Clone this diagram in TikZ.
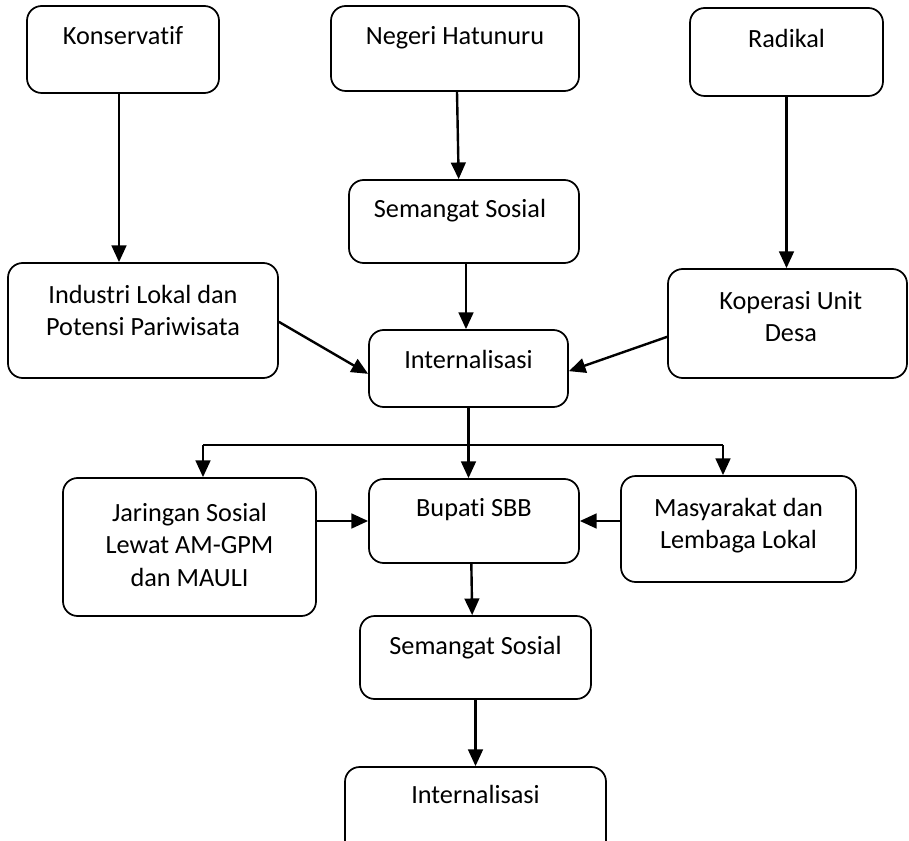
\documentclass[tikz,border=0pt]{standalone}
\usepackage{fontspec}
\setmainfont{Carlito}[Ligatures={NoCommon}]
\usetikzlibrary{arrows.meta}
\begin{document}
\begin{tikzpicture}[x=0.75pt,y=-0.75pt,
  box/.style={draw, line width=1.3pt, rounded corners=11pt, rectangle, inner sep=0pt},
  lbl/.style={font=\fontsize{19.7}{24.4}\selectfont, align=center, inner sep=0pt, anchor=base},
  arr/.style={line width=1.8pt, -{Triangle[length=12.5pt,width=11pt]}},
  link/.style={line width=1.8pt}]
\useasboundingbox (0,0) rectangle (909,841);
\clip (0,0) rectangle (909,841);
% boxes
\node[box, minimum width=144pt,   minimum height=65.25pt] (kons) at (123,49.5) {};
\node[box, minimum width=186pt,   minimum height=63.75pt] (neg)  at (455,48.5) {};
\node[box, minimum width=144.75pt,minimum height=66pt]    (rad)  at (786.5,52) {};
\node[box, minimum width=172.5pt, minimum height=62.25pt] (sem1) at (464,221.5) {};
\node[box, minimum width=202.5pt, minimum height=86.25pt] (ind)  at (143,320.5) {};
\node[box, minimum width=149.25pt,minimum height=57.75pt] (int1) at (468.5,368.5) {};
\node[box, minimum width=179.25pt,minimum height=81.75pt] (kop)  at (787.5,323.5) {};
\node[box, minimum width=189.75pt,minimum height=103.5pt] (jar)  at (189.5,547) {};
\node[box, minimum width=157.5pt, minimum height=63pt]    (bup)  at (474,521) {};
\node[box, minimum width=176.25pt,minimum height=79.5pt]  (mas)  at (738.5,529) {};
\node[box, minimum width=173.25pt,minimum height=62.25pt] (sem2) at (475.5,657.5) {};
\node[box, minimum width=195.75pt,minimum height=69.75pt] (int2) at (475.5,813.5) {};
% labels (base = baseline of the last line)
\node[lbl] (konsT) at ([yshift=-29.25pt]kons.north) {Konservatif};
\node[lbl] (negT)  at ([yshift=-29.25pt]neg.north) {Negeri Hatunuru};
\node[lbl] (radT)  at ([yshift=-30pt]rad.north) {Radikal};
\node[lbl] (sem1T) at ([yshift=-28.5pt,xshift=-3pt]sem1.north) {Semangat Sosial};
\node[lbl] (indT)  at ([yshift=-55.15pt]ind.north) {Industri Lokal dan\\Potensi Pariwisata};
\node[lbl] (int1T) at ([yshift=-29.25pt]int1.north) {Internalisasi};
\node[lbl] (kopT)  at ([yshift=-55.15pt,xshift=2.5pt]kop.north) {Koperasi Unit\\Desa};
\node[lbl] (jarT)  at ([yshift=-81.8pt]jar.north) {Jaringan Sosial\\Lewat AM-GPM\\dan MAULI};
\node[lbl] (bupT)  at ([yshift=-28.5pt]bup.north) {Bupati SBB};
\node[lbl] (masT)  at ([yshift=-55.15pt]mas.north) {Masyarakat dan\\Lembaga Lokal};
\node[lbl] (sem2T) at ([yshift=-29.25pt]sem2.north) {Semangat Sosial};
\node[lbl] (int2T) at ([yshift=-27.75pt]int2.north) {Internalisasi};
% connectors
\draw[arr] ([xshift=-3pt]kons.south) -- ([xshift=-3pt]kons.south |- ind.north);
\draw[arr] ([xshift=1.5pt]neg.south) -- ([xshift=-4pt]sem1.north);
\draw[arr] (rad.south) -- (rad.south |- kop.north);
\draw[arr] ([xshift=1.5pt]sem1.south) -- ([xshift=1.5pt]sem1.south |- int1.north);
\draw[arr] ([yshift=-1pt]ind.east) -- ([yshift=-4pt]int1.west);
\draw[arr] ([yshift=-10pt]kop.west) -- ([yshift=-2pt]int1.east);
\draw[arr] (int1.south) -- (int1.south |- bup.north);
\coordinate (tj) at (203,445);
\coordinate (tm) at (723,445);
\draw[link] (tj) -- (tm);
\draw[arr] (tj) -- (tj |- jar.north);
\draw[arr] (tm) -- (tm |- mas.north);
\draw[arr] (jar.east |- bup.west) -- (bup.west);
\draw[arr] (mas.west |- bup.east) -- (bup.east);
\draw[arr] ([xshift=-2pt]bup.south) -- ([xshift=-2.5pt]sem2.north);
\draw[arr] (sem2.south) -- (sem2.south |- int2.north);
\end{tikzpicture}
\end{document}
